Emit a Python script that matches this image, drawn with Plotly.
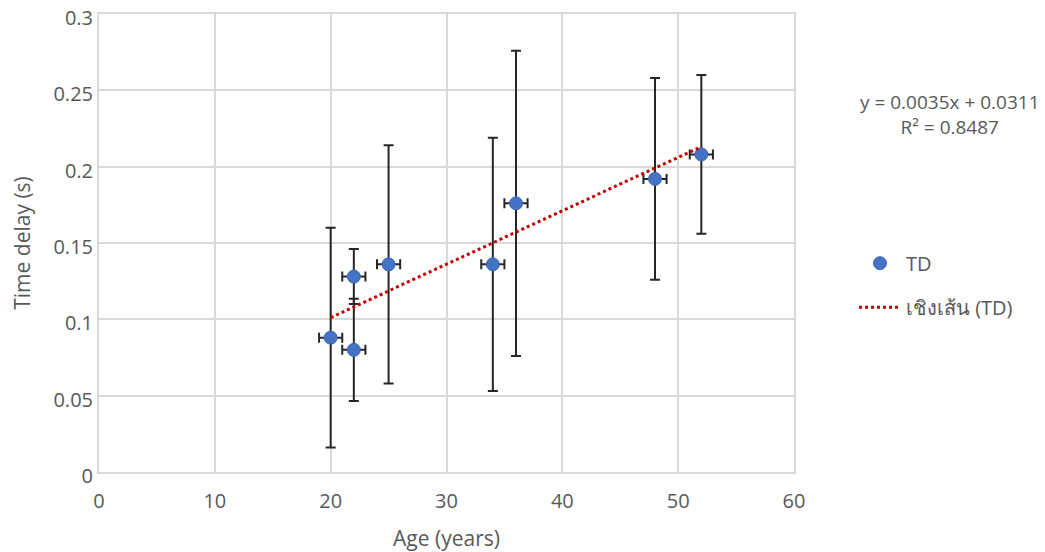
import numpy as np
import plotly.graph_objects as go

age = [20, 22, 22, 25, 34, 36, 48, 52]
time_delay = [0.088, 0.128, 0.080, 0.136, 0.136, 0.176, 0.192, 0.208]
td_error = [0.072, 0.018, 0.0335, 0.078, 0.083, 0.100, 0.066, 0.052]
age_error = [1, 1, 1, 1, 1, 1, 1, 1]

slope = 0.0035
intercept = 0.0311
r_squared = 0.8487

FONT = "Open Sans, Noto Sans, DejaVu Sans, sans-serif"
GRID = "#d9d9d9"
TEXT = "#595959"

trend_x = np.array([min(age), max(age)])
trend_y = slope * trend_x + intercept

fig = go.Figure()
fig.add_trace(go.Scatter(
    x=age, y=time_delay, mode="markers", name="TD", legendgroup="td",
    marker=dict(color="#4472c4", size=13, line=dict(color="#3d68b5", width=1)),
    error_y=dict(type="data", array=td_error, visible=True, color="#262626", thickness=2, width=5),
    error_x=dict(type="data", array=age_error, visible=True, color="#262626", thickness=2, width=5),
))
fig.add_trace(go.Scatter(
    x=trend_x, y=trend_y, mode="lines", name="เชิงเส้น (TD)", legendgroup="trend",
    line=dict(color="#c00000", width=3, dash="dot"),
))

# trendline equation, as Excel prints it
fig.add_annotation(
    x=1.2245, y=0.78, xref="paper", yref="paper", showarrow=False,
    xanchor="center", yanchor="middle",
    text=f"y = {slope}x + {intercept}<br>R² = {r_squared}",
    font=dict(size=19, color=TEXT, family=FONT), align="center",
)

fig.update_layout(
    width=1045, height=552,
    margin=dict(l=91, r=259, t=6, b=88, autoexpand=False),
    paper_bgcolor="white", plot_bgcolor="white",
    font=dict(family=FONT, size=20, color=TEXT),
    showlegend=True,
    legend=dict(x=1.0863, y=0.408, xanchor="left", yanchor="middle",
                font=dict(size=20, color=TEXT), tracegroupgap=15,
                itemwidth=42, bgcolor="rgba(0,0,0,0)"),
)
fig.update_xaxes(
    range=[0, 60], dtick=10, tick0=0, showgrid=True, gridcolor=GRID, gridwidth=2,
    showline=True, linecolor=GRID, linewidth=2, mirror=True, zeroline=False,
    automargin=False, ticks="", ticklabelstandoff=10, ticklabeloverflow="allow",
    title=dict(text="Age (years)", font=dict(size=21, color=TEXT), standoff=18),
    tickfont=dict(size=20, color=TEXT),
)
fig.update_yaxes(
    range=[0, 0.3], dtick=0.05, tick0=0, showgrid=True, gridcolor=GRID, gridwidth=2,
    showline=True, linecolor=GRID, linewidth=2, mirror=True, zeroline=False,
    automargin=False, ticks="", ticklabeloverflow="allow", ticklabelshift=4,
    title=dict(text="Time delay (s)", font=dict(size=21, color=TEXT), standoff=29),
    tickfont=dict(size=20, color=TEXT), tickformat="~g",
)

fig.write_html("out.html")
